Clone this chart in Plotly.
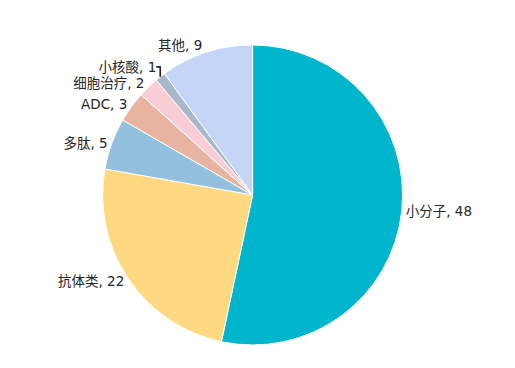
import plotly.graph_objects as go

# Pipeline categories and project counts
categories = ["小分子", "抗体类", "多肽", "ADC", "细胞治疗", "小核酸", "其他"]
counts = [48, 22, 5, 3, 2, 1, 9]
colors = ["#00B5CC", "#FFD982", "#92C0DE", "#E6B4A1", "#F8CDD5", "#A8B8C9", "#C4D5F6"]

fig = go.Figure(
    go.Pie(
        labels=categories,
        values=counts,
        sort=False,
        direction="clockwise",
        rotation=0,
        domain=dict(x=[0.2, 1.0], y=[0.0, 1.0]),
        marker=dict(colors=colors, line=dict(color="#FFFFFF", width=1)),
        texttemplate="%{label}, %{value}",
        textposition="outside",
        textfont=dict(family="DejaVu Sans, Noto Sans CJK SC", size=13.5, color="#262626"),
        showlegend=False,
        hoverinfo="label+value",
    )
)

fig.update_layout(
    width=515,
    height=368,
    margin=dict(l=0, r=0, t=45, b=23),
    paper_bgcolor="#FFFFFF",
    plot_bgcolor="#FFFFFF",
)

fig.write_html("out.html")
